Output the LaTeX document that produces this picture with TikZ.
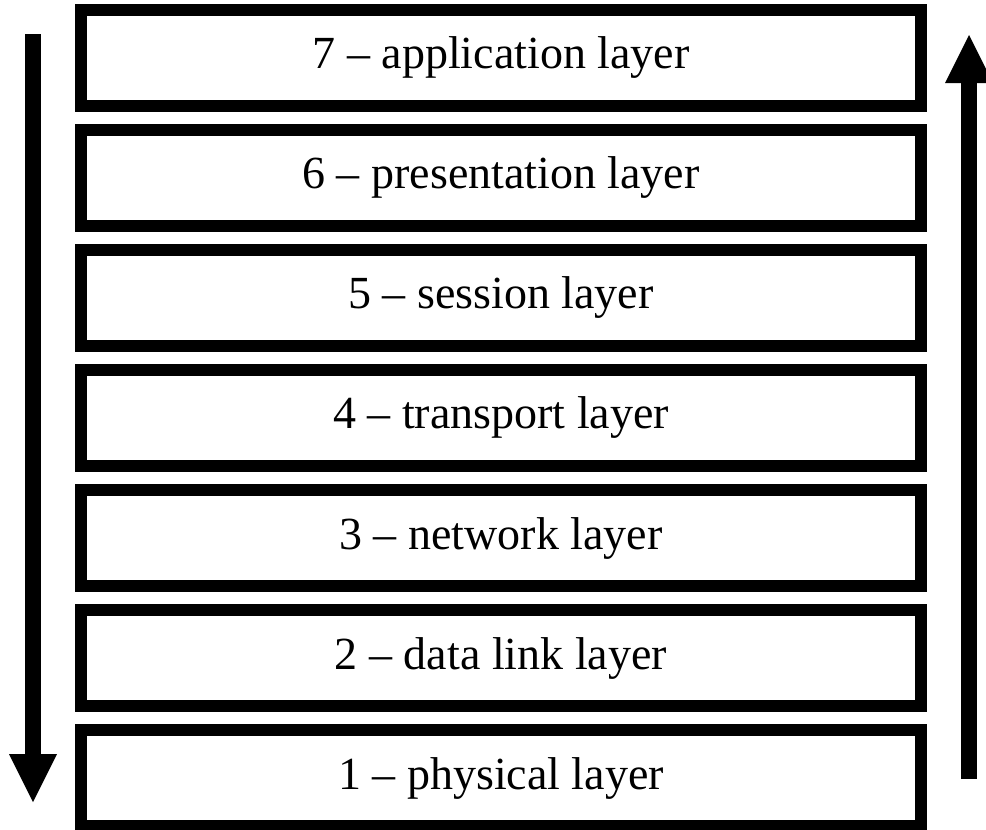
\documentclass[tikz,border=0pt]{standalone}
\usepackage{fontspec}
\setmainfont{Liberation Serif}
\usetikzlibrary{arrows.meta}
\tikzset{
    layer/.style={draw, line width=12pt, minimum width=840pt, minimum height=96pt, inner sep=0pt, font=\fontsize{46}{55}\selectfont}, % one box per layer
    flow/.style={line width=16pt, -{Triangle[length=48pt, width=48pt, line width=0pt]}}, % thick arrows at the sides
}

\begin{document}
\begin{tikzpicture}[x=1pt, y=-1pt]
    \useasboundingbox (0,0) rectangle (986,830);

    % Layers, from 7 at the top down to 1
    \foreach \n/\name [count=\i from 0] in {7/application, 6/presentation, 5/session, 4/transport, 3/network, 2/data link, 1/physical}
        \node[layer] (layer\n) at (501, 58+120*\i) {\n{} -- \name{} layer};

    % Arrow going down on the left
    \coordinate (downstart) at (33,34);
    \coordinate (downend) at (33,802);
    \draw[flow] (downstart) -- (downend);

    % Arrow going up on the right
    \coordinate (upstart) at (969,779);
    \coordinate (upend) at (969,35);
    \draw[flow] (upstart) -- (upend);
\end{tikzpicture}
\end{document}
